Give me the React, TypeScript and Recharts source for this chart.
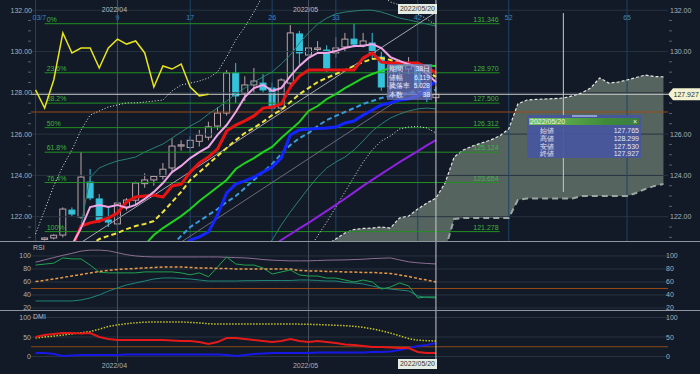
import React from 'react';
import { ComposedChart, Bar, Line, Area, XAxis, YAxis, ReferenceLine } from 'recharts';

const SLOTS = 70;
const FONT = '"Liberation Sans", Arial, sans-serif';
const BG = '#111a26';
const AXIS_L = 31;
const AXIS_R = 32;
const PLOT_R = 700 - AXIS_R;

// x axis: bar slots (45 candles + cloud shifted 26 ahead)
const monthTicks = [9, 30];
const monthLabels = ['2022/04', '2022/05'];
const timeBars = [0, 9, 17, 26, 33, 42, 52, 65];
const timeLabels = ['03/7', '9', '17', '26', '33', '42', '52', '65'];
const lastBar = 44;
const lastDate = '2022/05/20';

const priceTicks = [121, 121.5, 122, 122.5, 123, 123.5, 124, 124.5, 125, 125.5, 126, 126.5, 127, 127.5, 128, 128.5, 129, 129.5, 130, 130.5, 131, 131.5, 132];
const rsiTicks = [20, 40, 60, 80, 100];
const dmiTicks = [0, 50, 100];

const fibLevels = ['0%', '23.6%', '38.2%', '50%', '61.8%', '76.4%', '100%'];
const fibPrices = [131.346, 128.97, 127.5, 126.312, 125.124, 123.654, 121.278];
const fibFrom = 1;
const fibTo = 51;

const open = [null, 120.9, 120.97, 121.11, 122.32, 121.98, 123.68, 122.86, 121.84, 121.65, 122.47, 122.8, 123.6, 123.78, 123.95, 124.36, 125.42, 125.35, 125.65, 125.85, 126.39, 127.02, 128.96, 127.99, 128.38, 128.47, 128.23, 127.26, 128.47, 130.85, 129.83, 130.1, 130.07, 129.93, 130.22, 130.6, 130.31, 130.41, 129.73, 128.3, 129.3, 129.15, 129.39, 128.2, 127.765];
const high = [null, 121.0, 121.15, 122.45, 122.45, 125.13, 124.31, 123.1, 122.5, 122.8, 122.9, 123.7, 124.1, 124.0, 124.6, 125.8, 125.7, 125.9, 126.2, 126.6, 127.3, 129.1, 129.44, 128.8, 129.2, 128.9, 128.5, 128.7, 131.28, 131.0, 130.4, 130.5, 130.3, 130.7, 130.9, 131.346, 130.9, 130.9, 130.0, 129.5, 129.6, 129.73, 129.5, 128.5, 128.299];
const low = [null, 120.85, 120.9, 121.0, 122.0, 121.9, 122.8, 121.7, 121.5, 121.5, 122.3, 122.6, 123.4, 123.5, 123.8, 124.2, 125.2, 125.1, 125.4, 125.7, 126.2, 126.9, 127.5, 127.6, 128.0, 128.0, 127.1, 127.1, 128.3, 129.35, 129.6, 129.9, 129.0, 129.7, 130.0, 130.2, 130.2, 129.6, 128.1, 128.1, 128.9, 128.9, 128.1, 127.55, 127.53];
const close = [null, 120.97, 121.1, 122.37, 122.13, 123.92, 122.91, 121.84, 121.74, 122.66, 122.81, 123.63, 123.78, 123.95, 124.3, 125.42, 125.48, 125.7, 125.95, 126.35, 127.02, 128.96, 127.85, 128.38, 128.57, 128.14, 127.26, 128.62, 130.9, 129.93, 130.17, 130.17, 129.2, 130.17, 130.6, 130.36, 130.51, 129.93, 128.28, 129.3, 129.15, 129.39, 128.28, 127.85, 127.927];
const chikouShift = 25;

// price-panel lines, each with its first bar
const ma5Start = 4;
const ma5 = [120.63, 121.45, 122.47, 122.57, 122.47, 122.57, 122.42, 122.57, 122.86, 123.2, 123.63, 124.16, 124.46, 124.84, 125.13, 125.38, 125.96, 126.44, 127.07, 127.8, 128.23, 128.38, 128.09, 128.23, 128.81, 129.3, 129.69, 129.93, 129.93, 130.02, 130.17, 130.27, 130.27, 130.36, 130.17, 129.73, 129.54, 129.39, 129.25, 128.91, 128.52];
const tenkanStart = 4;
const tenkan = [120.5, 121.55, 121.7, 121.79, 121.94, 122.18, 122.71, 122.95, 123.0, 123.05, 122.95, 123.49, 123.58, 124.16, 124.6, 124.89, 125.28, 126.15, 126.44, 126.64, 126.88, 127.26, 127.31, 127.46, 128.28, 128.81, 129.1, 129.1, 129.1, 129.1, 129.1, 129.1, 129.69, 129.93, 129.49, 129.44, 129.44, 129.44, 129.44, 129.25, 128.96];
const ma25Start = 6;
const ma25 = [120.6, 120.92, 121.07, 121.21, 121.4, 121.55, 121.65, 121.79, 122.23, 122.71, 123.2, 123.78, 124.16, 124.55, 124.94, 125.33, 125.71, 126.05, 126.3, 126.59, 126.92, 127.17, 127.55, 127.94, 128.23, 128.52, 128.72, 128.91, 129.1, 129.3, 129.49, 129.64, 129.69, 129.59, 129.44, 129.35, 129.25, 129.06, 128.77];
const greenStart = 12;
const greenMa = [120.63, 121.11, 121.45, 121.74, 122.03, 122.37, 122.76, 123.1, 123.44, 123.78, 124.31, 124.6, 124.84, 125.13, 125.38, 125.81, 126.2, 126.59, 127.12, 127.36, 127.7, 127.94, 128.23, 128.47, 128.72, 128.91, 129.06, 129.2, 129.3, 129.35, 129.35, 129.32, 129.3];
const kijunStart = 16;
const kijun = [120.5, 120.87, 121.02, 121.26, 122.08, 123.15, 123.58, 123.73, 123.92, 124.16, 124.41, 124.84, 125.96, 126.2, 126.25, 126.27, 126.3, 126.34, 126.54, 126.63, 126.92, 127.17, 127.41, 127.51, 127.65, 127.7, 127.85, 128.23, 128.57];
const ma75Start = 15;
const ma75 = [120.63, 121.07, 121.5, 121.79, 122.08, 122.37, 122.71, 123.0, 123.39, 123.78, 124.16, 124.55, 125.04, 125.47, 125.81, 126.05, 126.39, 126.68, 126.88, 127.07, 127.26, 127.46, 127.6, 127.75, 127.85, 127.92, 127.99, 128.04, 128.09, 128.14];
const ma200Start = 26;
const ma200 = [120.55, 120.87, 121.15, 121.43, 121.7, 121.99, 122.28, 122.57, 122.87, 123.18, 123.49, 123.78, 124.07, 124.36, 124.64, 124.91, 125.18, 125.45, 125.71];
const bbUpperStart = 0;
const bbUpper = [121.16, 122.32, 123.49, 124.45, 125.23, 126.2, 126.92, 127.12, 127.31, 127.41, 127.51, 127.51, 127.55, 127.6, 127.65, 128.09, 128.38, 128.47, 128.57, 128.72, 129.01, 129.73, 130.56, 131.19, 131.91, 132.74, 133.3, 133.6, 134.0, 134.2, 134.3, 134.3, 134.2, 134.1, 134.0, 133.8, 133.4, 133.0, 132.7, 132.4, 132.25, 132.06, 131.82, 131.57, 131.28];
const bbLowerStart = 30;
const bbLower = [120.39, 121.07, 121.74, 122.47, 123.2, 123.92, 124.65, 125.23, 125.67, 125.91, 126.25, 126.34, 126.37, 126.3, 126.05];
const sigUpperStart = 4;
const sigUpper = [120.63, 121.6, 123.9, 124.36, 124.55, 124.7, 124.79, 124.89, 125.13, 125.33, 125.52, 125.81, 126.1, 126.39, 126.63, 126.97, 127.26, 127.6, 127.94, 128.23, 128.52, 128.77, 129.01, 129.4, 129.83, 130.41, 130.9, 131.33, 131.62, 131.82, 131.91, 131.96, 132.0, 132.0, 131.91, 131.77, 131.62, 131.53, 131.43, 131.33, 131.23];
const sigLowerStart = 25;
const sigLower = [120.39, 120.87, 121.6, 122.23, 122.81, 123.39, 123.92, 124.36, 124.65, 124.89, 125.23, 125.67, 126.15, 126.49, 126.78, 126.97, 127.12, 127.22, 127.26, 127.22];
const trendBars = [5, 44];
const trendPrices = [120.75, 131.9];
const trend2Bars = [16, 44];
const trend2Prices = [120.77, 128.85];

// ichimoku cloud (already shifted forward)
const cloudStart = 32;
const spanUpper = [120.63, 120.92, 121.21, 121.38, 121.43, 121.45, 121.5, 121.45, 121.94, 122.03, 122.37, 122.66, 122.9, 123.63, 124.89, 125.23, 125.42, 125.57, 125.71, 125.91, 126.25, 127.46, 127.65, 127.68, 127.7, 127.72, 127.75, 127.85, 127.99, 128.23, 128.72, 128.47, 128.52, 128.62, 128.74, 128.86, 128.79, 128.77];
const spanLower = [120.1, 120.1, 120.1, 120.1, 120.1, 120.1, 120.1, 120.15, 120.2, 120.2, 120.25, 120.3, 120.3, 120.4, 121.89, 121.94, 121.94, 121.94, 121.94, 121.94, 121.94, 122.81, 122.88, 122.88, 122.88, 122.88, 122.88, 122.88, 123.0, 123.0, 123.0, 123.0, 123.0, 123.0, 123.15, 123.34, 123.49, 123.58];

const markPrice = 127.07;
const measureBar = 58;
const measureTop = 131.86;
const measureBottom = 123.2;

// RSI panel
const rsiLong = [90.5, 94, 97.5, 101, 104, 107.5, 109, 109, 108, 105, 102, 100, 99, 98.5, 98.5, 98.5, 98.5, 98.5, 98.5, 98.5, 98.5, 98, 97.5, 97, 96, 94.5, 93.5, 93, 92.5, 92.5, 92.5, 93, 93.5, 93.8, 94, 94.5, 95, 96, 96.5, 97, 94, 91, 89.5, 88.5, 87.7];
const rsi = [86, 87.5, 89, 97, 95.5, 95.5, 86, 75, 74, 74, 74, 74, 75.5, 75.5, 75.5, 75.5, 74, 71, 74, 68, 83, 98.5, 87.7, 86, 86, 81.5, 72.3, 75.4, 78.5, 70.8, 69.2, 69.2, 66, 66, 63, 60, 63, 60, 49, 52.3, 58.5, 54, 35.4, 37, 37];
const rsiSlow = [30.8, 30.8, 30.8, 30.8, 30.8, 32.3, 35.4, 40, 46, 50.8, 55.4, 58.5, 61.5, 64.6, 66.2, 66.2, 65.4, 64.6, 63, 61.5, 61.5, 61.5, 61.5, 62, 62, 62.3, 62.3, 62.3, 62.3, 63, 63, 62.3, 61.5, 61.5, 59.2, 58.5, 57, 53.8, 50.8, 49.2, 47.7, 46.2, 38.5, 36.2, 35.4];
const rsiAvg = [60.8, 62.3, 64.6, 66.9, 69.2, 71.5, 73.8, 76.2, 77.7, 79.2, 80, 80.8, 81.5, 82.3, 83, 83, 83, 82.3, 81.5, 81.5, 80.8, 80.8, 80, 80, 80, 80, 80, 80, 80, 77.7, 77, 77, 76.2, 76.2, 75.4, 75.4, 74.6, 74.6, 73.8, 73, 70.8, 68.5, 65.4, 63, 60];
const rsiLevel = 50;

// DMI panel
const adx = [47.5, 50, 52.5, 55, 58, 61, 64, 70, 77, 81, 84, 86.5, 88, 88.5, 88.5, 88.5, 88.5, 87.5, 86, 84, 83.3, 83.5, 83.5, 83.5, 83.5, 83.3, 83.3, 83.3, 83.3, 83, 82.5, 82, 81, 80, 79, 77.5, 75, 71, 66, 60, 53, 46, 42, 40.5, 39.7];
const diPlus = [50, 55, 57.7, 60, 60, 59, 60, 50, 45, 42.3, 42.3, 42.3, 42.3, 42.3, 42.3, 41, 39.7, 39.7, 37, 32, 37, 47.4, 47.4, 45, 42.3, 39.7, 37, 39.7, 45, 39.7, 37, 39.7, 37, 34.6, 30.8, 29.5, 27, 24.4, 24.4, 23, 21.8, 21.8, 11.5, 9, 9];
const diMinus = [9, 9, 6.4, 1.3, 2.5, 3.8, 3.8, 3.8, 3.8, 3.8, 5, 5, 5, 5, 5, 5, 5, 5, 5, 5, 5, 3.8, 1.3, 3.8, 6.4, 7.7, 9, 9, 9, 9, 9, 10, 10, 10, 10, 10, 10, 11.5, 11.5, 12.8, 16.7, 21.8, 27, 29.5, 34.6];
const dmiLevel = 25;

const ohlcNames = ['始値', '高値', '安値', '終値'];
const measureNames = ['期間', '値幅', '騰落率', '本数'];
const measureValues = ['38日', '6.119', '5.028', '38'];

const at = (start: number, vals: (number | null)[]) => {
  const a: (number | null)[] = new Array(SLOTS).fill(null);
  vals.forEach((v, k) => {
    a[start + k] = v;
  });
  return a;
};

const cols = {
  ma5: at(ma5Start, ma5),
  tenkan: at(tenkanStart, tenkan),
  ma25: at(ma25Start, ma25),
  green: at(greenStart, greenMa),
  kijun: at(kijunStart, kijun),
  ma75: at(ma75Start, ma75),
  ma200: at(ma200Start, ma200),
  bbU: at(bbUpperStart, bbUpper),
  bbL: at(bbLowerStart, bbLower),
  sgU: at(sigUpperStart, sigUpper),
  sgL: at(sigLowerStart, sigLower),
  spanU: at(cloudStart, spanUpper),
  spanL: at(cloudStart, spanLower),
};

const rows = Array.from({ length: SLOTS }, (_, i) => {
  const r: any = { i };
  r.open = open[i] ?? null;
  r.high = high[i] ?? null;
  r.low = low[i] ?? null;
  r.close = close[i] ?? null;
  r.chikou = close[i + chikouShift] ?? null;
  Object.entries(cols).forEach(([k, a]) => {
    r[k] = a[i];
  });
  const t = trendBars.indexOf(i);
  r.trend = t >= 0 ? trendPrices[t] : null;
  const t2 = trend2Bars.indexOf(i);
  r.trend2 = t2 >= 0 ? trend2Prices[t2] : null;
  r.rsiLong = rsiLong[i] ?? null;
  r.rsi = rsi[i] ?? null;
  r.rsiSlow = rsiSlow[i] ?? null;
  r.rsiAvg = rsiAvg[i] ?? null;
  r.adx = adx[i] ?? null;
  r.diPlus = diPlus[i] ?? null;
  r.diMinus = diMinus[i] ?? null;
  return r;
});

const Candle = (props: any) => {
  const { x, y, width, height, payload } = props;
  if (payload == null || payload.open == null || !height) return null;
  const { open: o, high: h, low: l, close: c } = payload;
  const top = Math.min(y, y + height);
  const span = Math.abs(height);
  const k = span / (h - l);
  const py = (v: number) => top + (h - v) * k;
  const up = c >= o;
  const color = up ? '#b9a3a8' : '#35c3dc';
  const bTop = py(Math.max(o, c));
  const bH = Math.max(1, py(Math.min(o, c)) - bTop);
  const cx = x + width / 2;
  return (
    <g>
      <line x1={cx} x2={cx} y1={top} y2={top + span} stroke={color} strokeWidth={1} />
      <rect x={x + 0.5} y={bTop} width={width - 1} height={bH} fill={up ? BG : color} stroke={color} strokeWidth={1} />
    </g>
  );
};

const PriceTick = (props: any) => {
  const { y, payload, side } = props;
  const v = payload.value;
  const major = Math.abs(v % 2) < 1e-6;
  const left = side === 'l';
  if (!major) {
    const x0 = left ? AXIS_L - 3 : PLOT_R + 1;
    return <line x1={x0} x2={x0 + 3} y1={y} y2={y} stroke="#566170" />;
  }
  // the price flag on the right covers the nearby label
  if (!left && Math.abs(v - (close[lastBar] as number)) < 0.5) return null;
  return (
    <text x={left ? AXIS_L + 1 : PLOT_R + 2} y={y} dy={2.5} textAnchor={left ? 'end' : 'start'} fill="#a9b1ba" fontSize={7} fontFamily={FONT}>
      {v.toFixed(2)}
    </text>
  );
};

const SubTick = (props: any) => {
  const { y, payload, side } = props;
  const left = side === 'l';
  return (
    <text x={left ? AXIS_L : PLOT_R - 2} y={y} dy={2.5} textAnchor={left ? 'end' : 'start'} fill="#a9b1ba" fontSize={7} fontFamily={FONT}>
      {payload.value}
    </text>
  );
};

const DateTick = (props: any) => {
  const { x, payload } = props;
  const k = monthTicks.indexOf(payload.value);
  return (
    <text x={x - 3} y={57} textAnchor="middle" fill="#a9b1ba" fontSize={7} fontFamily={FONT}>
      {monthLabels[k]}
    </text>
  );
};

const VLabel = (props: any) => {
  const { viewBox, text, fill, ty, anchor, dx } = props;
  if (!viewBox) return null;
  return (
    <text x={viewBox.x + (dx || 0)} y={ty} textAnchor={anchor || 'middle'} fill={fill} fontSize={7} fontFamily={FONT}>
      {text}
    </text>
  );
};

const FibLabel = (props: any) => {
  const { viewBox, left, right } = props;
  if (!viewBox) return null;
  return (
    <g fontSize={7} fontFamily={FONT} fill="#3fb43f">
      <text x={viewBox.x + 2} y={viewBox.y - 2}>{left}</text>
      <text x={viewBox.x + viewBox.width - 1} y={viewBox.y - 2} textAnchor="end">{right}</text>
    </g>
  );
};

const PriceFlag = (props: any) => {
  const { viewBox, text } = props;
  if (!viewBox) return null;
  const x0 = viewBox.x + viewBox.width;
  const y0 = viewBox.y;
  return (
    <g>
      <path d={`M${x0} ${y0} L${x0 + 5} ${y0 - 6} L700 ${y0 - 6} L700 ${y0 + 6} L${x0 + 5} ${y0 + 6} Z`} fill="#f3f3d2" />
      <text x={x0 + 5.5} y={y0 + 2.5} fill="#2a2a2a" fontSize={7} fontFamily={FONT}>{text}</text>
    </g>
  );
};

const line = (key: string, color: string, width: number, dash?: string, join?: boolean) => (
  <Line
    key={key}
    dataKey={key}
    stroke={color}
    strokeWidth={width}
    strokeDasharray={dash}
    dot={false}
    activeDot={false}
    connectNulls={!!join}
    isAnimationActive={false}
  />
);

const PriceChart = () => (
  <ComposedChart width={700} height={241} data={rows} margin={{ top: 0, right: 0, bottom: 0, left: 0 }} barSize={7}>
    <XAxis dataKey="i" type="category" scale="band" hide />
    <YAxis orientation="left" width={AXIS_L} domain={[120.823, 132.494]} allowDataOverflow ticks={priceTicks} interval={0} tick={<PriceTick side="l" />} tickLine={false} axisLine={false} />
    <YAxis yAxisId="r" orientation="right" width={AXIS_R} domain={[120.823, 132.494]} allowDataOverflow ticks={priceTicks} interval={0} tick={<PriceTick side="r" />} tickLine={false} axisLine={false} />
    {priceTicks.filter((v) => v % 2 === 0).map((v) => (
      <ReferenceLine key={`g${v}`} y={v} stroke="#283340" />
    ))}
    {timeBars.map((b, k) => (
      <ReferenceLine key={`t${b}`} x={b} stroke="#1d4468" label={<VLabel text={timeLabels[k]} fill="#3f86c4" ty={20} anchor={k === 0 ? 'start' : 'middle'} dx={k === 0 ? -3 : 0} />} />
    ))}
    {monthTicks.map((b, k) => (
      <ReferenceLine key={`m${b}`} x={b} stroke="#48505d" label={<VLabel text={monthLabels[k]} fill="#b5bcc4" ty={12} dx={-3} />} />
    ))}
    <Area dataKey={(d: any) => (d.spanU == null ? null : [d.spanL, d.spanU])} stroke="none" fill="#5b6863" fillOpacity={0.95} isAnimationActive={false} />
    {line('spanU', '#e6e6e6', 1.2, '3 2')}
    {line('spanL', '#9ba6a1', 2, '6 4')}
    {fibPrices.map((p, k) => (
      <ReferenceLine key={`f${k}`} segment={[{ x: fibFrom, y: p }, { x: fibTo, y: p }]} stroke="#229022" label={<FibLabel left={fibLevels[k]} right={p.toFixed(3)} />} />
    ))}
    <ReferenceLine y={markPrice} stroke="#9a4a16" />
    <ReferenceLine y={close[lastBar]} stroke="#c9c9c9" label={<PriceFlag text={(close[lastBar] as number).toFixed(3)} />} />
    <ReferenceLine segment={[{ x: measureBar, y: measureTop }, { x: measureBar, y: measureBottom }]} stroke="#c9c9c9" />
    <Bar dataKey={(d: any) => (d.open == null ? null : [d.low, d.high])} shape={<Candle />} isAnimationActive={false} />
    {line('bbU', '#e8e8e8', 1, '1 2')}
    {line('bbL', '#e8e8e8', 1, '1 2')}
    {line('sgU', '#2a7f76', 1)}
    {line('sgL', '#2a7f76', 1)}
    {line('trend', '#a7a3b3', 1, undefined, true)}
    {line('trend2', '#6f6a7c', 1, undefined, true)}
    {line('ma200', '#8f22e0', 2)}
    {line('ma75', '#3a9bdc', 2, '5 3')}
    {line('kijun', '#1424ff', 3)}
    {line('green', '#1ed21e', 2)}
    {line('ma25', '#f2e23a', 2, '5 3')}
    {line('tenkan', '#e81414', 3)}
    {line('ma5', '#f0a6e6', 2)}
    {line('chikou', '#e8e41c', 1.5)}
    <ReferenceLine x={lastBar} stroke="#c9c9c9" />
  </ComposedChart>
);

const RsiChart = () => (
  <ComposedChart width={700} height={68} data={rows} margin={{ top: 0, right: 0, bottom: 0, left: 0 }}>
    <XAxis dataKey="i" type="category" scale="band" hide />
    <YAxis orientation="left" width={AXIS_L} domain={[16.9, 121.5]} allowDataOverflow ticks={rsiTicks} interval={0} tick={<SubTick side="l" />} tickLine={false} axisLine={false} />
    <YAxis yAxisId="r" orientation="right" width={AXIS_R} domain={[16.9, 121.5]} allowDataOverflow ticks={rsiTicks} interval={0} tick={<SubTick side="r" />} tickLine={false} axisLine={false} />
    {rsiTicks.map((v) => (
      <ReferenceLine key={`g${v}`} y={v} stroke="#283340" />
    ))}
    {monthTicks.map((b) => (
      <ReferenceLine key={`m${b}`} x={b} stroke="#48505d" />
    ))}
    <ReferenceLine y={rsiLevel} stroke="#9a4a16" />
    {line('rsiLong', '#8e6d92', 1)}
    {line('rsiSlow', '#20857c', 1)}
    {line('rsi', '#21a350', 1)}
    {line('rsiAvg', '#e89a48', 1.5, '3 2')}
    <ReferenceLine x={lastBar} stroke="#c9c9c9" />
  </ComposedChart>
);

const DmiChart = () => (
  <ComposedChart width={700} height={63} data={rows} margin={{ top: 0, right: 0, bottom: 0, left: 0 }}>
    <XAxis dataKey="i" type="category" scale="band" height={12} ticks={monthTicks} interval={0} tick={<DateTick />} tickLine={false} axisLine={false} />
    <YAxis orientation="left" width={AXIS_L} domain={[-14.1, 116.7]} allowDataOverflow ticks={dmiTicks} interval={0} tick={<SubTick side="l" />} tickLine={false} axisLine={false} />
    <YAxis yAxisId="r" orientation="right" width={AXIS_R} domain={[-14.1, 116.7]} allowDataOverflow ticks={dmiTicks} interval={0} tick={<SubTick side="r" />} tickLine={false} axisLine={false} />
    {dmiTicks.map((v) => (
      <ReferenceLine key={`g${v}`} y={v} stroke="#283340" />
    ))}
    {monthTicks.map((b) => (
      <ReferenceLine key={`m${b}`} x={b} stroke="#48505d" />
    ))}
    <ReferenceLine y={dmiLevel} stroke="#8a4c1c" />
    {line('adx', '#c9c624', 1.5, '1.5 1.5')}
    {line('diMinus', '#1818e6', 2)}
    {line('diPlus', '#e41a1a', 2)}
    <ReferenceLine x={lastBar} stroke="#c9c9c9" />
  </ComposedChart>
);

const text = (s: React.CSSProperties) => ({ position: 'absolute' as const, fontFamily: FONT, fontSize: 7, lineHeight: '8px', ...s });

export default function App() {
  const lastOhlc = [open[lastBar], high[lastBar], low[lastBar], close[lastBar]] as number[];
  return (
    <div style={{ position: 'absolute', left: 0, top: 0, width: 700, height: 374, background: BG, overflow: 'hidden' }}>
      <div style={{ position: 'absolute', left: 0, top: 0 }}><PriceChart /></div>
      <div style={{ position: 'absolute', left: 0, top: 241, width: 700, height: 1, background: '#8d959e' }} />
      <div style={{ position: 'absolute', left: 0, top: 242 }}><RsiChart /></div>
      <div style={{ position: 'absolute', left: 0, top: 310, width: 700, height: 1, background: '#8d959e' }} />
      <div style={{ position: 'absolute', left: 0, top: 311 }}><DmiChart /></div>
      <div style={text({ left: 33, top: 244, color: '#b5bcc4' })}>RSI</div>
      <div style={text({ left: 33, top: 313, color: '#b5bcc4' })}>DMI</div>

      {/* measuring box */}
      <div style={{ position: 'absolute', left: 387, top: 64, width: 45, height: 36, background: 'rgba(108,118,196,0.72)' }}>
        {measureNames.map((n, k) => (
          <div key={n} style={text({ left: 2, top: 1 + k * 8.5, width: 41, color: '#eef', display: 'flex', justifyContent: 'space-between', fontSize: 6.5 })}>
            <span>{n}</span>
            <span>{measureValues[k]}</span>
          </div>
        ))}
      </div>

      {/* OHLC box */}
      <div style={{ position: 'absolute', left: 527, top: 115, width: 114, height: 43, background: 'rgba(70,86,158,0.93)' }}>
        <div style={{ position: 'absolute', left: 45, top: 0, width: 25, height: 2, background: '#8e9dd2' }} />
        <div style={{ position: 'absolute', left: 2, top: 3, width: 110, height: 7, background: 'linear-gradient(90deg,#74c25a,#3f8a3a 70%,#3b7d44)' }} />
        <div style={text({ left: 3, top: 2.5, color: '#f4f4f4' })}>{lastDate}</div>
        <div style={text({ left: 106, top: 2.5, color: '#f4f4f4' })}>×</div>
        {ohlcNames.map((n, k) => (
          <div key={n} style={text({ left: 13, top: 12 + k * 7.8, width: 99, color: '#e4e6f4', display: 'flex', justifyContent: 'space-between' })}>
            <span>{n}</span>
            <span>{lastOhlc[k].toFixed(3)}</span>
          </div>
        ))}
      </div>

      {/* crosshair date flags */}
      <div style={text({ left: 398, top: 4, width: 39, height: 10, background: '#e4ede4', color: '#333', textAlign: 'center', lineHeight: '10px' })}>{lastDate}</div>
      <div style={text({ left: 398, top: 359, width: 39, height: 10, background: '#e4ede4', color: '#333', textAlign: 'center', lineHeight: '10px' })}>{lastDate}</div>
    </div>
  );
}
